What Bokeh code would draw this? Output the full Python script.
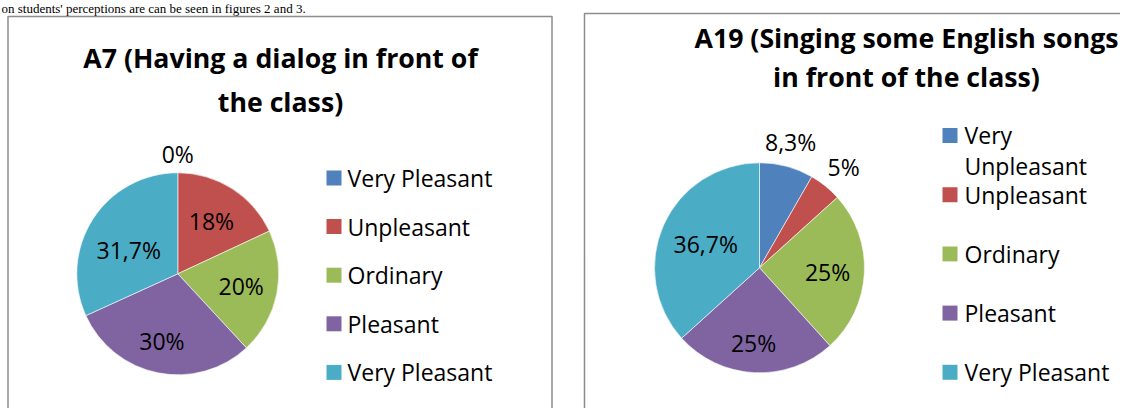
import numpy as np
from bokeh.plotting import figure
from bokeh.models import Range1d
from bokeh.core.properties import value
from bokeh.embed import file_html
from bokeh.resources import INLINE

# ---------------- data ----------------
page_text = "on students' perceptions are can be seen in figures 2 and 3."

title_a7 = ["A7 (Having a dialog in front of", "the class)"]
categories_a7 = ["Very Pleasant", "Unpleasant", "Ordinary", "Pleasant", "Very Pleasant"]
values_a7 = [0, 18, 20, 30, 31.7]

title_a19 = ["A19 (Singing some English songs", "in front of the class)"]
categories_a19 = ["Very\nUnpleasant", "Unpleasant", "Ordinary", "Pleasant", "Very Pleasant"]
values_a19 = [8.3, 5, 25, 25, 36.7]

colors = ["#4F81BD", "#C0504D", "#9BBB59", "#8064A2", "#4BACC6"]

# ---------------- layout / style ----------------
W, H = 1120, 408
FONT = "Open Sans"
LABEL_SIZE = "23px"
LEGEND_SIZE = "23px"
TITLE_SIZE = "26.7px"


def X(ix):
    return ix


def Y(iy):
    return H - iy


p = figure(width=W, height=H, x_range=Range1d(0, W), y_range=Range1d(0, H),
           output_backend="svg", toolbar_location=None, min_border=0)
p.axis.visible = False
p.grid.visible = False
p.outline_line_color = None
p.background_fill_color = "white"
p.border_fill_color = "white"

# surrounding document line
p.text(x=[X(1)], y=[Y(0.5)], text=[page_text], text_align="left", text_baseline="top",
       text_font=value("Liberation Serif"), text_font_size="13px", text_color="#000000")

# chart boxes
p.quad(left=[X(7.5), X(584)], right=[X(551.5), X(1160)], top=[Y(16), Y(13)], bottom=[Y(440), Y(440)],
       fill_color=None, line_color="#8C8C8C", line_width=1.5)


def fmt(v):
    return ("%g" % v).replace(".", ",") + "%"


def pie(cx, cy, r, vals, lab_f, lab_da):
    vals = np.asarray(vals, dtype=float)
    fr = vals / vals.sum()
    ce = np.cumsum(fr)
    cs = ce - fr
    a_start = np.pi / 2 - 2 * np.pi * cs
    a_end = np.pi / 2 - 2 * np.pi * ce
    keep = vals > 0
    p.wedge(x=[X(cx)] * keep.sum(), y=[Y(cy)] * keep.sum(), radius=r, radius_units="screen",
            start_angle=list(a_end[keep]), end_angle=list(a_start[keep]), direction="anticlock",
            fill_color=[c for c, k in zip(colors, keep) if k], line_color="white", line_width=0.6)
    mid = (a_start + a_end) / 2 + np.radians(lab_da)
    lx = X(cx) + np.asarray(lab_f) * r * np.cos(mid)
    ly = Y(cy) + np.asarray(lab_f) * r * np.sin(mid)
    p.text(x=list(lx), y=list(ly), text=[fmt(v) for v in vals], text_align="center",
           text_baseline="middle", text_font=value(FONT), text_font_size=LABEL_SIZE, text_color="#000000")


def legend(sq_x, txt_x, y0, dy, labels, line_gap=30):
    n = len(labels)
    ys = [Y(y0 + i * dy) for i in range(n)]
    p.rect(x=[X(sq_x)] * n, y=ys, width=15, height=15, width_units="screen", height_units="screen",
           fill_color=colors, line_color=None)
    txt_y = []
    for lab, yy in zip(labels, ys):
        nl = lab.count("\n")
        txt_y.append(yy - nl * line_gap / 2)
    p.text(x=[X(txt_x)] * n, y=txt_y, text=labels, text_align="left", text_baseline="middle",
           text_font=value(FONT), text_font_size=LEGEND_SIZE, text_color="#000000",
           text_line_height=line_gap / (23 * 1.362))


def title(cx, base1, base2, lines):
    p.text(x=[X(cx)] * 2, y=[Y(base1), Y(base2)], text=lines, text_align="center",
           text_baseline="alphabetic", text_font=value(FONT), text_font_style="bold",
           text_font_size=TITLE_SIZE, text_color="#000000")


# left chart
title(280, 57, 101, title_a7)
pie(177.3, 273.3, 101, values_a7, [1.19, 0.62, 0.64, 0.68, 0.54], [0, 0, 0, -2, 7])
legend(333.5, 347, 177.5, 48.6, categories_a7)

# right chart
title(906, 37, 76, title_a19)
pie(759, 267.3, 105, values_a19, [1.23, 1.25, 0.65, 0.72, 0.56], [1, -1, -1, -1.6, 0])
legend(949.5, 964, 135, 59.2, categories_a19, line_gap=30)

open("out.html", "w").write(file_html(p, INLINE))
